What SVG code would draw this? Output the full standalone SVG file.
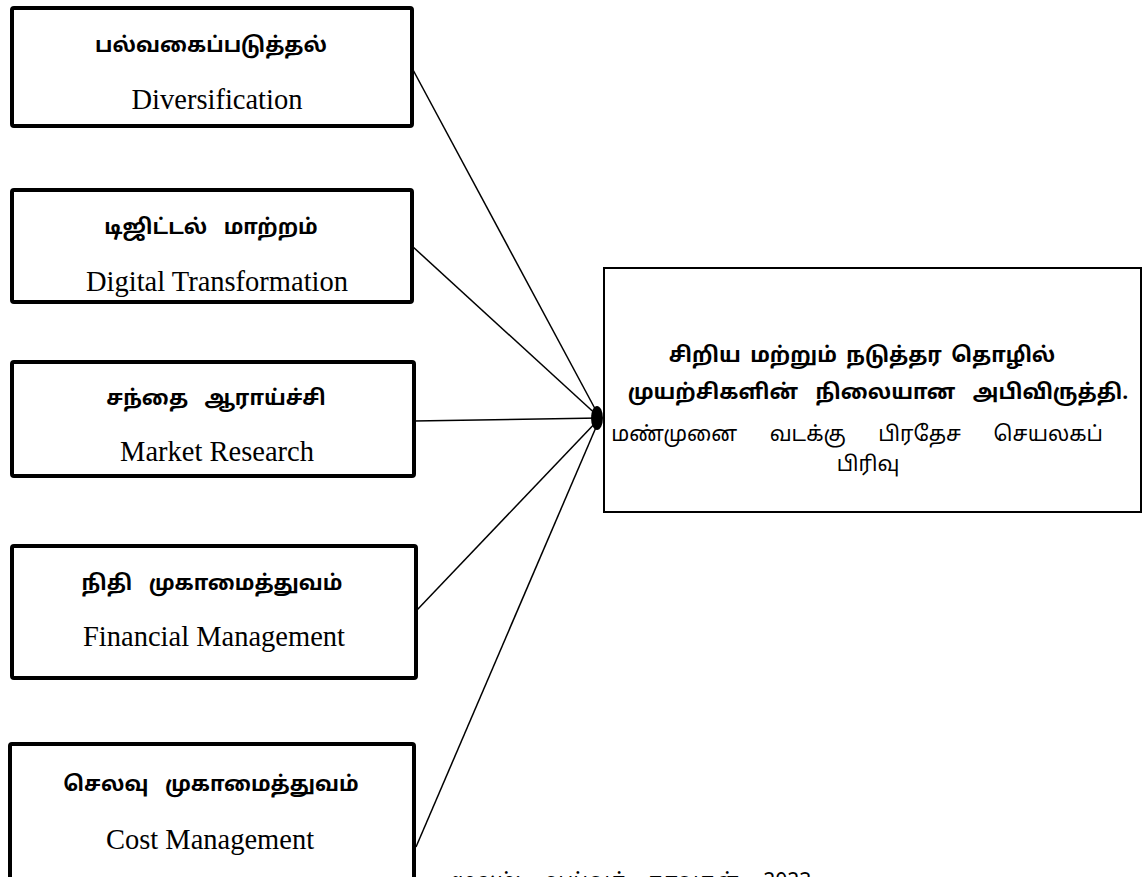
<svg xmlns="http://www.w3.org/2000/svg" width="1144" height="877" viewBox="0 0 1144 877">
<style>
.box{fill:#fff;stroke:#000;stroke-width:4;}
.tbox{fill:#fff;stroke:#000;stroke-width:2;}
.ta{font-family:"Noto Sans Tamil","Noto Sans","Lato",sans-serif;font-size:21px;font-weight:bold;text-anchor:middle;fill:#000;word-spacing:11px;}
.tr{font-family:"Noto Sans Tamil","Noto Sans","Lato",sans-serif;font-size:21px;text-anchor:middle;fill:#000;}
.en{font-family:"Liberation Serif",serif;font-size:28.5px;text-anchor:middle;fill:#000;}
.con{stroke:#000;stroke-width:1.5;fill:none;}
</style>
<defs>
<marker id="ah" viewBox="0 0 10 10" refX="10" refY="5" markerWidth="8" markerHeight="8" markerUnits="userSpaceOnUse" orient="auto">
<path d="M0,0 L10,5 L0,10 z" fill="#000"/>
</marker>
</defs>
<g id="connectors">
<line class="con" x1="412" y1="68" x2="600" y2="418" marker-end="url(#ah)"/>
<line class="con" x1="412" y1="246" x2="600" y2="418" marker-end="url(#ah)"/>
<line class="con" x1="414" y1="421" x2="600" y2="418" marker-end="url(#ah)"/>
<line class="con" x1="417" y1="610" x2="600" y2="418" marker-end="url(#ah)"/>
<line class="con" x1="416" y1="847" x2="600" y2="418" marker-end="url(#ah)"/>
<ellipse cx="597" cy="418" rx="6" ry="12" fill="#000"/>
</g>
<g id="n1">
<rect class="box" x="12" y="8" width="400" height="118" rx="2"/>
<text class="ta" x="211" y="52">பல்வகைப்படுத்தல்</text>
<text class="en" x="217" y="109">Diversification</text>
</g>
<g id="n2">
<rect class="box" x="12" y="190" width="400" height="112" rx="2"/>
<text class="ta" x="211" y="234">டிஜிட்டல் மாற்றம்</text>
<text class="en" x="217" y="291">Digital Transformation</text>
</g>
<g id="n3">
<rect class="box" x="12" y="362" width="402" height="114" rx="2"/>
<text class="ta" x="216" y="405">சந்தை ஆராய்ச்சி</text>
<text class="en" x="217" y="461">Market Research</text>
</g>
<g id="n4">
<rect class="box" x="12" y="546" width="404" height="132" rx="2"/>
<text class="ta" x="212" y="590">நிதி முகாமைத்துவம்</text>
<text class="en" x="214" y="646">Financial Management</text>
</g>
<g id="n5">
<rect class="box" x="10" y="744" width="404" height="140" rx="2"/>
<text class="ta" x="211" y="791">செலவு முகாமைத்துவம்</text>
<text class="en" x="210" y="849">Cost Management</text>
</g>
<g id="center">
<rect class="tbox" x="604" y="268" width="537" height="244"/>
<text class="ta" x="862" y="362" style="word-spacing:4px">சிறிய மற்றும் நடுத்தர தொழில்</text>
<text class="ta" x="878" y="399" style="word-spacing:12px">முயற்சிகளின் நிலையான அபிவிருத்தி.</text>
<text class="tr" x="857" y="441" style="word-spacing:27px">மண்முனை வடக்கு பிரதேச செயலகப்</text>
<text class="tr" x="868" y="471">பிரிவு</text>
</g>
<text class="tr" x="450" y="888" style="text-anchor:start;word-spacing:14px">மூலம்: ஆய்வுத் தரவுகள், 2023</text>
</svg>
